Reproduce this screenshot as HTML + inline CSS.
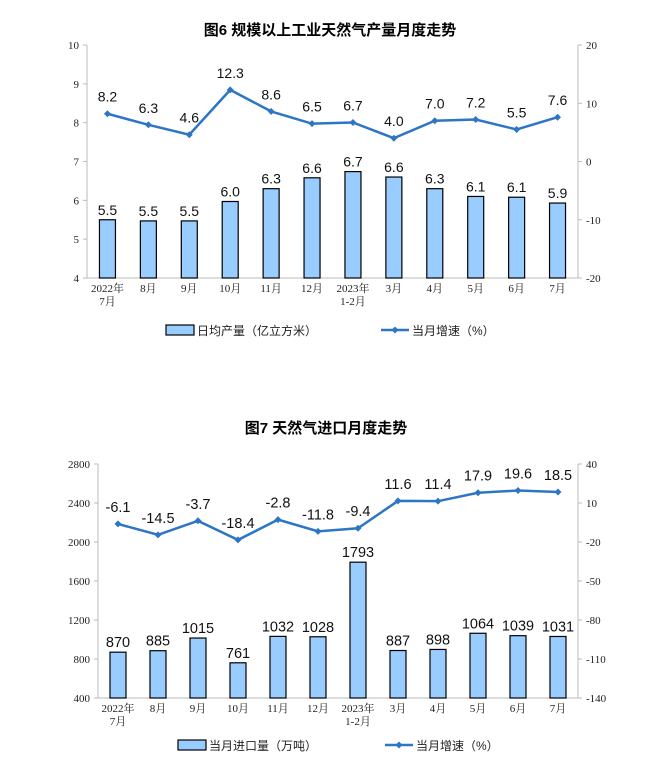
<!DOCTYPE html>
<html><head><meta charset="utf-8"><style>
html,body{margin:0;padding:0;background:#fff;}
svg{display:block;}
.t{font-family:"Liberation Sans","Noto Sans CJK SC",sans-serif;font-weight:bold;font-size:15px;fill:#000;}
.ax{font-family:"Liberation Serif","Noto Serif CJK SC",serif;font-size:11px;fill:#222;}
.d{font-family:"Liberation Sans",sans-serif;font-size:13.5px;fill:#111;}
.lg{font-family:"Liberation Sans","Noto Sans CJK SC",sans-serif;font-size:12px;fill:#222;}
</style></head><body>
<svg width="649" height="783" viewBox="0 0 649 783" xmlns="http://www.w3.org/2000/svg">
<rect width="649" height="783" fill="#fff"/>
<g id="c1"></g>
<g id="c2"></g>
</svg>
<script>
function build(cfg){
  const g=document.getElementById(cfg.id);let s='';
  const {L,R,T,B}=cfg;
  s+=`<text class="t" x="${cfg.tx}" y="${cfg.ty}" text-anchor="middle">${cfg.title}</text>`;
  s+=`<line x1="${L}" y1="${T}" x2="${L}" y2="${B}" stroke="#bbb"/><line x1="${R}" y1="${T}" x2="${R}" y2="${B}" stroke="#bbb"/><line x1="${L}" y1="${B}" x2="${R}" y2="${B}" stroke="#bbb"/>`;
  let n=cfg.ly.length;
  for(let i=0;i<n;i++){const y=T+(B-T)*i/(n-1);
    s+=`<line x1="${L-4}" y1="${y}" x2="${L}" y2="${y}" stroke="#bbb"/>`;
    s+=`<text class="ax" x="${L-8}" y="${y+4}" text-anchor="end">${cfg.ly[i]}</text>`;}
  n=cfg.ry.length;
  for(let i=0;i<n;i++){const y=T+(B-T)*i/(n-1);
    s+=`<line x1="${R}" y1="${y}" x2="${R+4}" y2="${y}" stroke="#bbb"/>`;
    s+=`<text class="ax" x="${R+8}" y="${y+4}">${cfg.ry[i]}</text>`;}
  const w=(R-L)/12;
  const yl=v=>B-(v-cfg.lmin)/(cfg.lmax-cfg.lmin)*(B-T);
  const yr=v=>B-(v-cfg.rmin)/(cfg.rmax-cfg.rmin)*(B-T);
  const cats=[["2022年","7月"],["8月"],["9月"],["10月"],["11月"],["12月"],["2023年","1-2月"],["3月"],["4月"],["5月"],["6月"],["7月"]];
  let pts=[];
  for(let i=0;i<12;i++){const cx=L+w*(i+0.5);
    const y=yl(cfg.bars[i]);
    s+=`<rect x="${cx-8}" y="${y}" width="16" height="${B-y}" fill="#99ccff" stroke="#000" stroke-width="1.2"/>`;
    s+=`<text class="d" style="font-size:${cfg.fs}px" x="${cx}" y="${y-5}" text-anchor="middle">${cfg.bl[i]}</text>`;
    const py=yr(cfg.line[i]);pts.push(cx+','+py);
    s+=`<text class="d" style="font-size:${cfg.fs}px" x="${cx}" y="${py-12}" text-anchor="middle">${cfg.ll[i]}</text>`;
    cats[i].forEach((c,k)=>s+=`<text class="ax" x="${cx}" y="${B+14+k*13}" text-anchor="middle">${c}</text>`);
  }
  s+=`<polyline points="${pts.join(' ')}" fill="none" stroke="#2e75c6" stroke-width="2.5"/>`;
  pts.forEach(p=>{const [x,y]=p.split(',').map(Number);s+=`<path d="M${x} ${y-3.5}L${x+3.5} ${y}L${x} ${y+3.5}L${x-3.5} ${y}Z" fill="#2e75c6"/>`});
  const gy=cfg.gy;
  s+=`<rect x="${cfg.g1}" y="${gy-5}" width="28" height="10" fill="#99ccff" stroke="#000" stroke-width="1.2"/><text class="lg" x="${cfg.g1+31}" y="${gy+5}">${cfg.leg}</text>`;
  s+=`<line x1="${cfg.g2}" y1="${gy}" x2="${cfg.g2+28}" y2="${gy}" stroke="#2e75c6" stroke-width="2.5"/><path d="M${cfg.g2+14} ${gy-3.5}L${cfg.g2+17.5} ${gy}L${cfg.g2+14} ${gy+3.5}L${cfg.g2+10.5} ${gy}Z" fill="#2e75c6"/><text class="lg" x="${cfg.g2+31}" y="${gy+5}">当月增速（%）</text>`;
  g.innerHTML=s;
}
build({id:"c1",title:"图6  规模以上工业天然气产量月度走势",tx:330,ty:35,L:87,R:578,T:45,B:278,fs:14,
 ly:[10,9,8,7,6,5,4],ry:[20,10,0,-10,-20],lmin:4,lmax:10,rmin:-20,rmax:20,
 bars:[5.5,5.47,5.47,5.97,6.3,6.58,6.74,6.6,6.3,6.1,6.08,5.93],bl:["5.5","5.5","5.5","6.0","6.3","6.6","6.7","6.6","6.3","6.1","6.1","5.9"],
 line:[8.2,6.3,4.6,12.3,8.6,6.5,6.7,4.0,7.0,7.2,5.5,7.6],ll:["8.2","6.3","4.6","12.3","8.6","6.5","6.7","4.0","7.0","7.2","5.5","7.6"],
 gy:330,g1:166,g2:381,leg:"日均产量（亿立方米）"});
build({id:"c2",title:"图7  天然气进口月度走势",tx:326,ty:433,L:98,R:578,T:464,B:698,fs:14.5,
 ly:[2800,2400,2000,1600,1200,800,400],ry:[40,10,-20,-50,-80,-110,-140],lmin:400,lmax:2800,rmin:-140,rmax:40,
 bars:[870,885,1015,761,1032,1028,1793,887,898,1064,1039,1031],bl:["870","885","1015","761","1032","1028","1793","887","898","1064","1039","1031"],
 line:[-6.1,-14.5,-3.7,-18.4,-2.8,-11.8,-9.4,11.6,11.4,17.9,19.6,18.5],ll:["-6.1","-14.5","-3.7","-18.4","-2.8","-11.8","-9.4","11.6","11.4","17.9","19.6","18.5"],
 gy:745,g1:178,g2:385,leg:"当月进口量（万吨）"});
</script>
</body></html>
